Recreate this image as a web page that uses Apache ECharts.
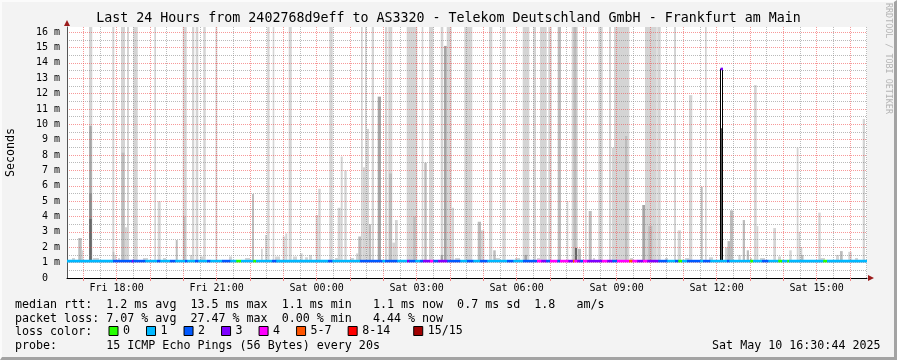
<!DOCTYPE html>
<html><head><meta charset="utf-8">
<script src="https://cdn.jsdelivr.net/npm/echarts@6/dist/echarts.min.js"></script>
<style>
html,body{margin:0;padding:0;background:#f3f3f3;}
#wrap{position:relative;width:897px;height:360px;}
#chart{position:absolute;left:0;top:0;width:897px;height:360px;}
#frame{position:absolute;left:0;top:0;width:897px;height:360px;box-sizing:border-box;border-style:solid;border-width:2px 3px 3px 2px;border-color:#fbfbfb #a3a3a3 #a3a3a3 #fbfbfb;pointer-events:none;}
</style></head>
<body><div id="wrap"><div id="chart"></div><div id="frame"></div></div>
<script>
// ---------------- data (x = minutes since graph start, Fri 16:30:44; y = milliseconds) ----------------
const titleText = 'Last 24 Hours from 2402768d9eff to AS3320 - Telekom Deutschland GmbH - Frankfurt am Main';
const xMaxMinutes = 1440;
const firstHourMinute = 29.27;            // Fri 17:00
const xTickLabels = ['Fri 18:00','Fri 21:00','Sat 00:00','Sat 03:00','Sat 06:00','Sat 09:00','Sat 12:00','Sat 15:00'];
const xTickMinutes = [89.27, 269.27, 449.27, 629.27, 809.27, 989.27, 1169.27, 1349.27];
const yTickValues = [0,1,2,3,4,5,6,7,8,9,10,11,12,13,14,15,16];
const yMax = 16.33;

const lossNames  = ['0','1','2','3','4','5-7','8-14','15/15'];
const lossColors = ['#26ff00','#00b8ff','#0059ff','#7e00ff','#ff00ff','#ff5500','#ff0000','#a10000'];

const medianMs = 1.1;
const smokeFloorMs = 1.05;
// smoke columns: [startMin, endMin, topMs, shade]   (17 = above the visible scale)
const smokeColumns = [
  [20.3,26.5,2.6,1],[26.5,29.3,1.8,0],[39.6,45.5,17,0],[40.1,44.5,9.9,2],[40.1,44.5,5.5,3],[40.1,44.5,3.84,4],
  [81.5,85.1,17,0],[82.3,85.1,1.7,1],[85.1,88.7,1.5,0],[97.2,104.4,17,0],[98.1,103.5,8.15,1],[104.4,108,3.3,0],
  [108,111.6,17,0],[119.3,127.3,17,0],[157.1,160.2,17,0],[163.3,168.7,5.0,0],[195.7,199.3,2.47,1],[208.3,215.5,17,0],
  [208.8,213.3,4.0,1],[225,229.1,17,0],[231.7,236.3,17,0],[245.3,249.7,17,0],[267.3,270.5,17,0],[333,336.6,5.46,1],
  [349.2,352.3,1.9,0],[356.4,360.5,2.8,0],[360.5,364.5,17,0],[370.3,373.1,17,0],[388.3,392.4,2.7,0],[392.9,396.5,2.9,0],
  [399.1,404.5,17,0],[419.4,424.3,1.6,0],[435.6,441,1.5,0],[447.7,452.3,4.1,0],[452.3,456.7,5.8,0],[472.1,478.3,17,0],
  [487.3,492.7,4.57,0],[492.7,496.3,7.9,0],[499.1,503.5,7.0,0],[520.2,524.3,1.6,0],[524.3,529.2,2.7,1],[529.2,532.3,17,0],
  [532.3,536.4,7.2,0],[536.4,539.5,17,0],[539.5,543.6,9.7,0],[543.6,547.2,3.5,1],[548.5,552.6,17,0],[559.3,565.2,11.8,2],
  [572.4,576.5,17,0],[578.3,585.5,17,0],[579.6,585,6.8,1],[585.5,590.4,2.3,0],[590.4,595.3,3.77,0],[611.5,630.5,17,0],
  [623.3,627.7,4.0,1],[638.5,641.3,17,0],[643.1,647.5,7.5,1],[651.6,659.3,17,0],[672.7,677.3,17,0],[672.7,676.9,1.5,2],
  [678.6,683.5,15.1,2],[683.5,692.5,17,0],[692.5,696.6,4.57,0],[715.1,729.5,17,0],[739.3,745.2,3.66,1],[745.2,751.1,3.1,0],
  [759.6,765.5,17,0],[767.3,771.7,1.8,1],[783.5,789.7,17,0],[820.3,832.1,17,0],[823.5,828,1.5,2],[839.3,844.2,17,0],
  [851.4,863.5,17,0],[866.3,872.5,17,0],[883.3,889.2,17,1],[899.5,902.3,5.0,0],[908.5,919.3,17,0],[911.7,917.1,17,1],
  [914.4,918,1.95,4],[919.3,925.2,1.9,1],[932.4,935.5,17,0],[939.1,944.5,4.36,1],[956.3,964.3,17,0],[975.6,979.2,17,0],
  [980.5,984.6,8.47,0],[984.6,1012.1,17,0],[1004.4,1008.5,9.24,1],[1035.5,1040.4,4.75,2],[1040.4,1061.5,17,0],
  [1046.3,1053.5,3.38,1],[1062.5,1068.7,17,0],[1092.6,1096.2,17,0],[1099.3,1105.2,3.1,0],[1119.6,1125.5,11.9,0],
  [1140.7,1144.3,5.94,1],[1148.4,1151.5,17,0],[1184.4,1190.3,2.0,0],[1188.9,1193.4,2.4,1],[1193.4,1199.3,4.4,1],
  [1208.3,1212.7,1.5,0],[1216.3,1220.4,3.77,1],[1223.5,1227.6,1.8,1],[1236.6,1241.5,12.55,0],[1241.5,1244.3,3.38,0],
  [1271.3,1276.2,3.25,0],[1300.1,1304.5,1.8,0],[1313.5,1316.7,8.47,0],[1316.7,1319.9,3.0,0],[1319.9,1323.5,2.0,0],
  [1321.2,1325.7,1.5,1],[1352.3,1356.7,4.25,0],[1384.2,1389.6,1.5,0],[1391.4,1396.3,1.75,1],[1406.3,1412.5,1.7,0],
  [1432.3,1436.4,10.35,0]
];
// small smoke just above the median: [startMin, endMin, topMs]
const baseBumps = [
  [9,14.4,1.3],[46.8,57.6,1.3],[91.8,95.4,1.3],[136.8,145.8,1.3],[172.8,178.2,1.3],[221.4,226.8,1.5],[239.4,248.4,1.4],
  [291.6,297,1.4],[320.4,329.4,1.3],[374.4,383.4,1.4],[406.8,414,1.4],[428.4,433.8,1.35],[482.4,487.8,1.3],[509.4,516.6,1.3],
  [698.4,707.4,1.3],[770.4,779.4,1.3],[806.4,815.4,1.3],[846,851.4,1.3],[946.8,950.4,1.3],[1013.4,1018.8,1.3],
  [1076.4,1081.8,1.3],[1112.4,1121.4,1.3],[1155.6,1162.8,1.35],[1229.4,1233,1.3],[1247.4,1256.4,1.3],[1279.8,1285.2,1.4],
  [1355.4,1364.4,1.3],[1418.4,1423.8,1.3]
];
// max column with outline: [startMin, endMin, maxMs, darkTopMs]
const maxColumns = [[1175.4,1181.3,13.6,9.75]];
// median loss colour segments: start minute and loss level index
const lossStart = [0,82.8,117,118.8,140.4,162,167.4,185.4,194.4,212.4,216,230.4,235.8,252,257.4,279,293.4,304.2,313.2,334.8,
  340.2,369,376.2,469.8,477,527.4,567,572.4,594,612,615.6,626.4,635.4,640.8,653.4,658.8,667.8,684,707.4,720,730.8,743.4,756,
  792,802.8,820.8,846,853.2,862.2,869.4,882,887.4,901.8,910.8,912.6,918,923.4,928.8,936,963,972,981,990,1011.6,1017,1026,
  1036.8,1044,1063.8,1080,1094.4,1099.8,1107,1116,1139.4,1144.8,1157.4,1188,1191.6,1229.4,1234.8,1251,1261.8,1279.8,1287,
  1296,1299.6,1360.8,1368];
const lossLevel = [1,2,3,2,1,2,1,2,1,2,1,2,1,2,1,2,1,0,1,0,
  1,2,1,2,1,2,1,2,1,3,2,1,2,3,4,2,3,2,1,2,1,2,1,
  2,1,2,4,3,2,4,2,4,3,5,4,3,2,4,3,4,3,2,4,5,4,3,
  4,3,2,1,2,0,1,2,1,2,1,2,1,0,1,2,1,0,1,
  0,1,0,1];
// median spike: [startMin, endMin, ms, lossLevel]
const medianSpikes = [[1176.5,1180.2,13.6,3]];

const legendRows = [
  'median rtt:  1.2 ms avg  13.5 ms max  1.1 ms min   1.1 ms now  0.7 ms sd  1.8   am/s',
  'packet loss: 7.07 % avg  27.47 % max  0.00 % min   4.44 % now',
  'loss color:',
  'probe:       15 ICMP Echo Pings (56 Bytes) every 20s'
];
const dateText = 'Sat May 10 16:30:44 2025';

// ---------------- build ----------------
const FONT = '"DejaVu Sans Mono", monospace';
const shadeColors = ['#d4d4d4','#bcbcbc','#a5a5a5','#8b8b8b','#676767'];

const majorMinutes = []; for (let m = firstHourMinute; m <= xMaxMinutes; m += 60) majorMinutes.push(+m.toFixed(2));
const minorMinutes = []; for (let m = firstHourMinute + 30; m <= xMaxMinutes; m += 60) minorMinutes.push(+m.toFixed(2));
const yMinor = []; for (let v = 0.5; v < yMax; v += 1) yMinor.push(v);

const smokeData = smokeColumns.map(c => [c[0], c[1], smokeFloorMs, c[2], c[3]])
  .concat(baseBumps.map(b => [b[0], b[1], smokeFloorMs, b[2], 0]))
  .sort((a, b) => a[4] - b[4]);

function area(params) { const c = params.coordSys; return {x: c.x, y: c.y, width: c.width, height: c.height}; }

function renderSmoke(params, api) {
  const a = api.coord([api.value(0), api.value(3)]);
  const b = api.coord([api.value(1), api.value(2)]);
  const r = echarts.graphic.clipRectByRect({x: a[0], y: a[1], width: b[0] - a[0], height: b[1] - a[1]}, area(params));
  if (!r) return;
  return {type: 'rect', shape: r, style: {fill: shadeColors[api.value(4)]}};
}
function renderMax(params, api) {
  const a = api.coord([api.value(0), api.value(2)]);     // top of outline (max)
  const b = api.coord([api.value(1), medianMs]);
  const d = api.coord([api.value(0), api.value(3)]);     // top of dark fill
  const x0 = Math.round(a[0]) + 0.5, x1 = Math.round(b[0]) - 0.5;
  return {type: 'group', children: [
    {type: 'rect', shape: {x: x0, y: a[1], width: x1 - x0, height: b[1] - a[1]}, style: {fill: '#ffffff', stroke: '#000', lineWidth: 1}},
    {type: 'rect', shape: {x: x0 + 0.5, y: d[1], width: x1 - x0 - 1, height: b[1] - d[1]}, style: {fill: '#555555'}}
  ]};
}
function renderMedian(params, api) {
  const ms = api.value(2);
  const a = api.coord([api.value(0), ms]);
  const b = api.coord([api.value(1), ms]);
  const h = 2.6;
  const r = echarts.graphic.clipRectByRect({x: a[0], y: a[1] - h / 2, width: b[0] - a[0] + 0.3, height: h}, area(params));
  if (!r) return;
  return {type: 'rect', shape: r, style: {fill: api.visual('color')}};
}

const medianSeries = lossNames.map((name, L) => {
  const data = [];
  lossStart.forEach((t, i) => {
    if (lossLevel[i] === L) data.push([t, i + 1 < lossStart.length ? lossStart[i + 1] : xMaxMinutes, medianMs]);
  });
  medianSpikes.forEach(s => { if (s[3] === L) data.push([s[0], s[1], s[2]]); });
  return {
    type: 'custom', name, z: 5, renderItem: renderMedian, data,
    encode: {x: [0, 1], y: 2}, itemStyle: {color: lossColors[L]}, silent: true
  };
});

const chart = echarts.init(document.getElementById('chart'), null, {renderer: 'canvas'});
const labelFor = v => { const i = xTickMinutes.findIndex(m => Math.abs(m - v) < 0.01); return i >= 0 ? xTickLabels[i] : ''; };

chart.setOption({
  animation: false,
  backgroundColor: '#f3f3f3',
  title: {text: titleText, left: 'center', top: 12, padding: 0,
    textStyle: {fontFamily: FONT, fontSize: 13.3, fontWeight: 'normal', color: '#000'}},
  grid: {left: 67, top: 27, width: 800, height: 251, show: true, backgroundColor: '#ffffff', borderWidth: 0, containLabel: false, outerBoundsMode: 'none'},
  legend: {data: lossNames, left: 108.5, top: 325, padding: 0, itemWidth: 9, itemHeight: 9, itemGap: 16, icon: 'rect',
    selectedMode: false, itemStyle: {borderColor: '#000', borderWidth: 1},
    formatter: n => n === '8-14' ? '8-14 ' : n,
    textStyle: {fontFamily: FONT, fontSize: 11.66, color: '#000'}},
  xAxis: [
    {type: 'value', min: 0, max: xMaxMinutes, position: 'bottom', z: 3,
      axisLine: {show: true, onZero: false, lineStyle: {color: '#000', width: 1}},
      axisTick: {show: true, customValues: majorMinutes, length: 3, lineStyle: {color: '#f08a8a'}},
      axisLabel: {customValues: xTickMinutes, formatter: labelFor, fontFamily: FONT, fontSize: 10, color: '#000', margin: 5},
      splitLine: {show: true, lineStyle: {color: 'rgba(240,70,70,0.55)', type: [1, 1], width: 1}}},
    {type: 'value', min: 0, max: xMaxMinutes, position: 'bottom', z: 3,
      axisLine: {show: true, onZero: false, symbol: ['none', 'triangle'], symbolSize: [6, 6], symbolOffset: [0, 4],
        lineStyle: {color: '#9b1b1b', width: 0}},
      axisTick: {show: false, customValues: minorMinutes}, axisLabel: {show: false},
      splitLine: {show: true, lineStyle: {color: 'rgba(130,130,130,0.55)', type: [1, 1], width: 1}}}
  ],
  yAxis: [
    {type: 'value', min: 0, max: yMax, position: 'left', z: 3,
      name: 'Seconds', nameLocation: 'middle', nameGap: 50,
      nameTextStyle: {fontFamily: FONT, fontSize: 11.66, color: '#000'},
      axisLine: {show: true, onZero: false, lineStyle: {color: '#555', width: 1}},
      axisTick: {show: false, customValues: yTickValues},
      axisLabel: {customValues: yTickValues, formatter: v => v === 0 ? '0  ' : v + ' m', fontFamily: FONT, fontSize: 10, color: '#000', margin: 7},
      splitLine: {show: true, lineStyle: {color: 'rgba(240,70,70,0.55)', type: [1, 1], width: 1}}},
    {type: 'value', min: 0, max: yMax, position: 'left', z: 3,
      axisLine: {show: true, onZero: false, symbol: ['none', 'triangle'], symbolSize: [6, 6], symbolOffset: [0, 4],
        lineStyle: {color: '#9b1b1b', width: 0}},
      axisTick: {show: false, customValues: yMinor}, axisLabel: {show: false},
      splitLine: {show: true, lineStyle: {color: 'rgba(130,130,130,0.55)', type: [1, 1], width: 1}}}
  ],
  graphic: [
    ...legendRows.map((t, i) => ({type: 'text', x: 15, y: [304.5, 318.8, 332.3, 346.2][i], silent: true,
      style: {text: t, font: '11.66px ' + FONT, fill: '#000', align: 'left', verticalAlign: 'middle'}})),
    {type: 'text', x: 880.5, y: 346.2, silent: true,
      style: {text: dateText, font: '11.66px ' + FONT, fill: '#000', align: 'right', verticalAlign: 'middle'}},
    {type: 'text', x: 888, y: 3, rotation: -Math.PI / 2, silent: true,
      style: {text: 'RRDTOOL / TOBI OETIKER', font: '8.4px ' + FONT, fill: '#b4b4b4', align: 'left', verticalAlign: 'middle'}}
  ],
  series: [
    {type: 'custom', name: 'smoke', z: 2, renderItem: renderSmoke, data: smokeData, encode: {x: [0, 1], y: [2, 3]}, silent: true},
    {type: 'custom', name: 'max', z: 4, renderItem: renderMax, data: maxColumns, encode: {x: [0, 1], y: [2, 3]}, silent: true},
    ...medianSeries
  ]
});
</script></body></html>
